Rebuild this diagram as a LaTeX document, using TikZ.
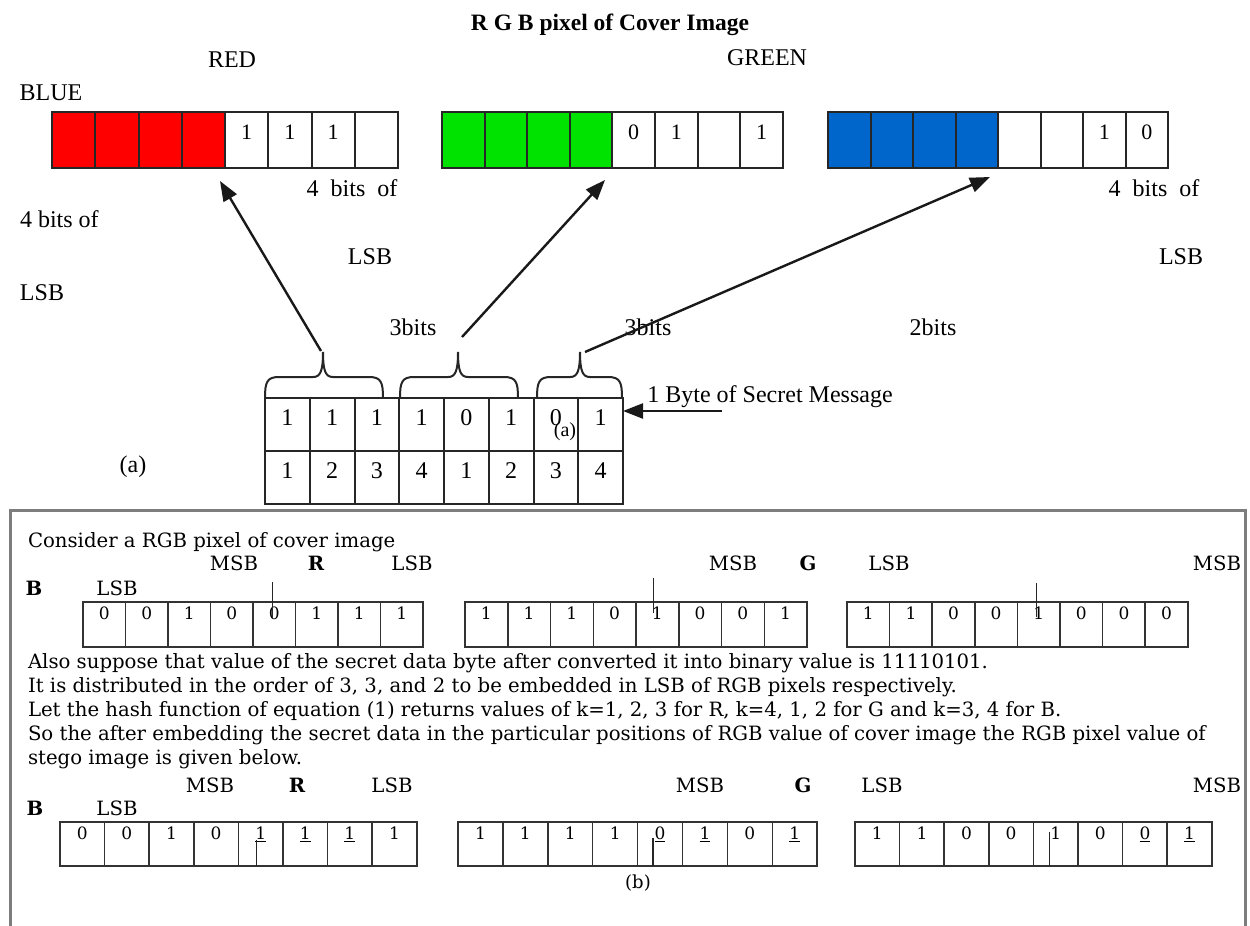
\documentclass[tikz,border=0pt]{standalone}
\usepackage{fontspec}
\setmainfont{Liberation Serif}
\newfontfamily\dvs{DejaVu Serif}
\usetikzlibrary{arrows.meta}
\definecolor{pxred}{RGB}{255,0,0}
\definecolor{pxgreen}{RGB}{0,226,0}
\definecolor{pxblue}{RGB}{0,102,204}
\definecolor{framegray}{RGB}{125,125,125}
\newcommand\bbar[6]{%
  \foreach \d [count=\i] in {#6} {
    \node[bcell, minimum width=#3pt, minimum height=#5pt] (#1\i) at ({#2+#3*(\i-0.5)},{#4+#5/2}) {};
    \node[bdig, anchor=north] (#1d\i) at ([yshift=-5pt]#1\i.north) {\d};
  }
}
\newcommand\tbar[4]{% prefix, x0, width, fill
  \foreach \i in {1,...,8} {
    \ifnum\i<5 \def\fc{#4}\else\def\fc{white}\fi
    \node[topcell, minimum width=#3pt, fill=\fc] (#1\i) at ({#2+#3*(\i-0.5)},140) {};
  }
}
\newcommand\secbrace[3]{%
  \draw[brc] (#1,398) .. controls (#1,382) and (#1+2,377) .. (#1+14,377) -- (#3-10,377)
    .. controls (#3-3,377) and (#3,372) .. (#3,352)
    .. controls (#3,372) and (#3+3,377) .. (#3+10,377) -- (#2-14,377)
    .. controls (#2-2,377) and (#2,382) .. (#2,398);
}
\begin{document}
\begin{tikzpicture}[x=1pt,y=-1pt,
  every node/.style={inner sep=0pt, outer sep=0pt},
  ttxt/.style={font=\fontsize{24}{28}\selectfont},
  ttitle/.style={font=\bfseries\fontsize{23.5}{28}\selectfont},
  tdig/.style={font=\fontsize{22}{26}\selectfont},
  sdig/.style={font=\fontsize{24}{28}\selectfont},
  topcell/.style={draw=black!85, line width=2pt, minimum height=56pt},
  seccell/.style={draw=black!85, line width=2pt, minimum width=44.75pt, minimum height=53pt},
  btxt/.style={font=\dvs\fontsize{19.7}{24}\selectfont, anchor=base west},
  blab/.style={font=\dvs\fontsize{19.7}{24}\selectfont, anchor=base},
  blabb/.style={font=\dvs\bfseries\fontsize{19.7}{24}\selectfont, anchor=base},
  bcell/.style={draw=black!80, line width=1.5pt},
  bdig/.style={font=\dvs\fontsize{17}{20}\selectfont},
  arr/.style={line width=2.4pt, black!90, -{Triangle[length=20pt,width=15pt]}},
  brc/.style={line width=2pt, black!85},
  markline/.style={line width=1.5pt, black!85}
]
\useasboundingbox (0,0) rectangle (1250,926);
\fill[white] (0,0) rectangle (1250,926);

% ---------- top part ----------
\node[ttitle] (title) at (610,25) {R G B pixel of Cover Image};
\node[ttxt] (red) at (232,60) {RED};
\node[ttxt] (green) at (767,58) {GREEN};
\node[ttxt] (blue) at (51,93) {BLUE};

\tbar{R}{52}{43.25}{pxred}
\tbar{G}{442}{42.6}{pxgreen}
\tbar{B}{828}{42.5}{pxblue}
\foreach \i/\d in {5/1,6/1,7/1} \node[tdig] (Rd\i) at ([yshift=8pt]R\i.center) {\d};
\foreach \i/\d in {5/0,6/1,8/1} \node[tdig] (Gd\i) at ([yshift=8pt]G\i.center) {\d};
\foreach \i/\d in {7/1,8/0} \node[tdig] (Bd\i) at ([yshift=8pt]B\i.center) {\d};

\node[ttxt] (fb1) at (352,188) {4\hspace{6pt} bits\hspace{6pt} of};
\node[ttxt] (fb2) at (1154,188) {4\hspace{6pt} bits\hspace{6pt} of};
\node[ttxt, anchor=west] (fb3) at (20,219) {4 bits of};
\node[ttxt] (lsb1) at (42,293) {LSB};
\node[ttxt] (lsb2) at (370,257) {LSB};
\node[ttxt] (lsb3) at (1181,257) {LSB};
\node[ttxt] (bits1) at (413,327) {3bits};
\node[ttxt] (bits2) at (648,327) {3bits};
\node[ttxt] (bits3) at (933,327) {2bits};
\node[ttxt] (capa) at (133,467) {(a)};

% secret message table
\foreach \d [count=\i] in {1,1,1,1,0,1,0,1} {
  \node[seccell] (M\i) at ({265+44.75*(\i-0.5)},424.5) {};
  \node[sdig] (Md\i) at ([yshift=6.5pt]M\i.center) {\d};
}
\foreach \d [count=\i] in {1,2,3,4,1,2,3,4} {
  \node[seccell] (N\i) at ({265+44.75*(\i-0.5)},477.5) {};
  \node[sdig] (Nd\i) at ([yshift=6.5pt]N\i.center) {\d};
}
\node[font=\fontsize{20}{24}\selectfont] (smalla) at (565,432) {(a)};

\secbrace{265}{383}{323}
\secbrace{400}{518}{458}
\secbrace{537}{622}{580}

\coordinate (b1) at (321,351); \coordinate (t1) at (220,181);
\coordinate (b2) at (462,337); \coordinate (t2) at (605,180);
\coordinate (b3) at (585,352); \coordinate (t3) at (990,177);
\draw[arr] (b1) -- (t1);
\draw[arr] (b2) -- (t2);
\draw[arr] (b3) -- (t3);

\node[ttxt] (byte) at (770,397) {1 Byte of Secret Message};
\coordinate (m1) at (722,411);
\draw[arr] (m1) -- (m1 -| M8.east);

% ---------- bottom box ----------
\draw[framegray, line width=3pt] (10,926) -- (10,510) -- (1245,510) -- (1245,926);

\node[btxt] (l0) at (28,547) {Consider a RGB pixel of cover image};
\node[blab] (cm1) at (234,570) {MSB};
\node[blabb] (cr) at (316,570) {R};
\node[blab] (cl1) at (412,570) {LSB};
\node[blab] (cm2) at (733,570) {MSB};
\node[blabb] (cg) at (808,570) {G};
\node[blab] (cl2) at (889,570) {LSB};
\node[blab] (cm3) at (1217,570) {MSB};
\node[blabb] (cb) at (34,595) {B};
\node[blab] (cl3) at (117,595) {LSB};

\bbar{CR}{83}{42.5}{602}{45}{0,0,1,0,0,1,1,1}
\bbar{CG}{465}{42.75}{602}{45}{1,1,1,0,1,0,0,1}
\bbar{CB}{847}{42.6}{602}{45}{1,1,0,0,1,0,0,0}
\draw[markline] ([xshift=-2pt]CR5.north) ++(0,-20) -- ++(0,36);
\draw[markline] ([xshift=-4pt]CG5.north) ++(0,-24) -- ++(0,35);
\draw[markline] ([xshift=-2pt]CB5.north) ++(0,-19) -- ++(0,34);

\node[btxt] (l1) at (28,668) {Also suppose that value of the secret data byte after converted it into binary value is 11110101.};
\node[btxt] (l2) at (28,692) {It is distributed in the order of 3, 3, and 2 to be embedded in LSB of RGB pixels respectively.};
\node[btxt] (l3) at (28,716) {Let the hash function of equation (1) returns values of k=1, 2, 3 for R, k=4, 1, 2 for G and k=3, 4 for B.};
\node[btxt] (l4) at (28,740) {So the after embedding the secret data in the particular positions of RGB value of cover image the RGB pixel value of};
\node[btxt] (l5) at (28,764) {stego image is given below.};

\node[blab] (sm1) at (210,792) {MSB};
\node[blabb] (sr) at (297,792) {R};
\node[blab] (sl1) at (392,792) {LSB};
\node[blab] (sm2) at (700,792) {MSB};
\node[blabb] (sg) at (803,792) {G};
\node[blab] (sl2) at (882,792) {LSB};
\node[blab] (sm3) at (1217,792) {MSB};
\node[blabb] (sb) at (35,815) {B};
\node[blab] (sl3) at (117,815) {LSB};

\bbar{SR}{60}{44.6}{822}{44}{0,0,1,0,\underline{1},\underline{1},\underline{1},1}
\bbar{SG}{458}{44.9}{822}{44}{1,1,1,1,\underline{0},\underline{1},0,\underline{1}}
\bbar{SB}{855}{44.6}{822}{44}{1,1,0,0,1,0,\underline{0},\underline{1}}
\draw[markline] ([xshift=-4pt]SR5.south) -- ++(0,-26);
\draw[markline] ([xshift=-7pt]SG5.south) -- ++(0,-28);
\draw[markline] ([xshift=-6pt]SB5.south) -- ++(0,-34);

\node[font=\dvs\fontsize{18}{22}\selectfont, anchor=base] (capb) at (638,888) {(b)};
\end{tikzpicture}
\end{document}
